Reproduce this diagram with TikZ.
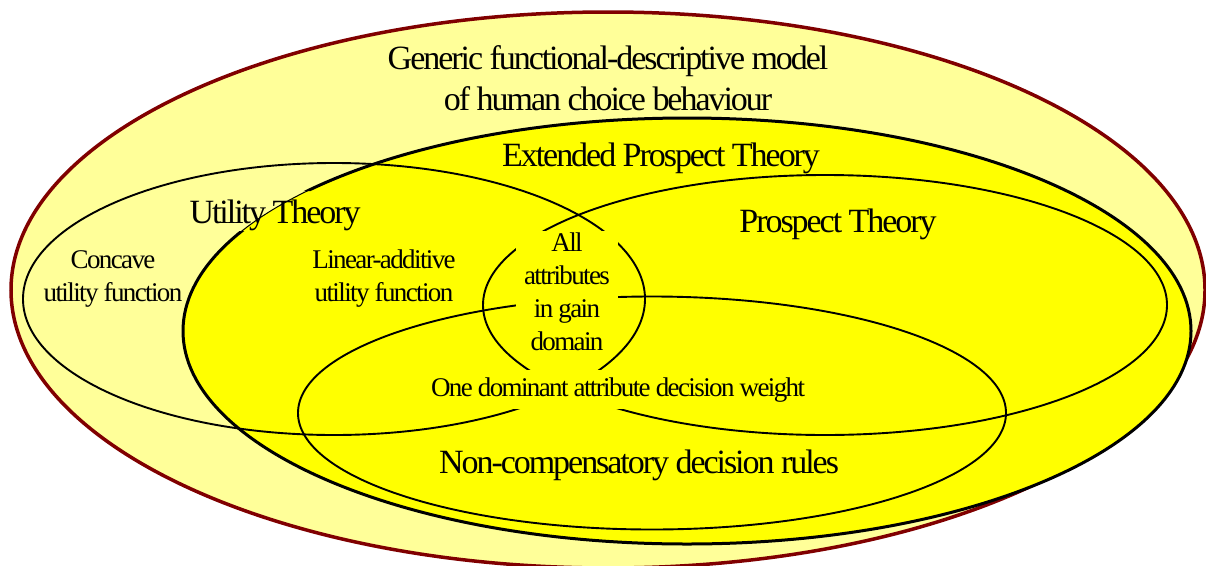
\documentclass[tikz,border=0pt]{standalone}
\usepackage{fontspec}
\setmainfont{Liberation Serif}[LetterSpace=-6]
\usetikzlibrary{shapes.geometric}
\definecolor{paleyellow}{HTML}{FFFF99}
\definecolor{brightyellow}{HTML}{FFFF00}
\definecolor{darkred}{HTML}{800000}
\begin{document}
\begin{tikzpicture}[x=1pt,y=-1pt,
  oval/.style={ellipse, inner sep=0pt, outer sep=0pt},
  thinoval/.style={oval, draw=black, line width=1.9pt},
  bigtext/.style={font=\fontsize{34}{41}\selectfont, inner sep=0pt, align=center},
  smalltext/.style={font=\fontsize{27}{33}\selectfont, inner sep=0pt, align=center}]
\path[use as bounding box] (0,0) rectangle (1206,565);
% outer model
\node[oval, fill=paleyellow, draw=darkred, line width=3.5pt, minimum width=1194pt, minimum height=556pt] (outer) at (608,290) {};
% extended prospect theory
\node[oval, fill=brightyellow, draw=black, line width=1pt, minimum width=1008pt, minimum height=426pt] (ept) at (687,331) {};
\begin{scope}
  \clip (0,0) -- (1206,0) -- (1206,565) -- (0,565) -- (0,231) -- (185,231) -- (365,231) -- (365,191) -- (185,191) -- (185,231) -- (0,231) -- cycle;
  \draw[line width=3pt] (ept.center) ellipse [x radius=504pt, y radius=213pt];
\end{scope}
% utility, prospect, non-compensatory
\node[thinoval, minimum width=622pt, minimum height=272pt] (ut) at (334,299) {};
\node[thinoval, minimum width=684pt, minimum height=260pt] (pt) at (825,305) {};
\node[thinoval, minimum width=708pt, minimum height=233pt] (nc) at (652,413) {};
% labels
\node[bigtext] (generic) at (608,78.5) {Generic functional-descriptive model\\of human choice behaviour};
\node[bigtext, anchor=base] (eptlabel) at (661,166) {Extended Prospect Theory};
\node[bigtext, anchor=base] (utlabel) at (275,223) {Utility Theory};
\node[bigtext, anchor=base] (ptlabel) at (838,232) {Prospect Theory};
\node[bigtext, anchor=base] (nclabel) at (639,473) {Non-compensatory decision rules};
\node[smalltext] (concave) at (113,279) {Concave\\utility function};
\node[smalltext] (linear) at (384,279) {Linear-additive\\utility function};
\node[smalltext, fill=brightyellow, inner xsep=8pt, inner ysep=2pt] (gain) at (567,292) {All\\attributes\\in gain\\domain};
\node[smalltext, fill=brightyellow, inner sep=7pt, anchor=base] (dominant) at (618,396) {One dominant attribute decision weight};
\end{tikzpicture}
\end{document}
